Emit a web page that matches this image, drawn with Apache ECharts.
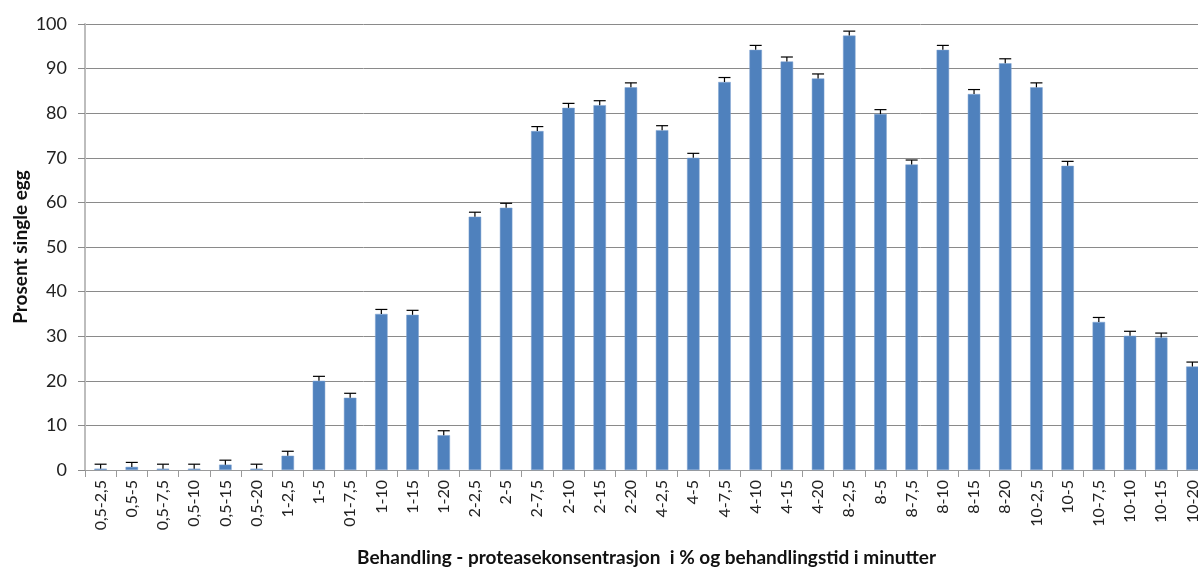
<!DOCTYPE html>
<html><head><meta charset="utf-8">
<script src="https://cdn.jsdelivr.net/npm/echarts@6/dist/echarts.min.js"></script>
<style>html,body{margin:0;padding:0;background:#fff}#c{width:1198px;height:569px}</style>
</head><body><div id="c"></div>
<script>
const categories = ['0,5-2,5','0,5-5','0,5-7,5','0,5-10','0,5-15','0,5-20','1-2,5','1-5','01-7,5','1-10','1-15','1-20','2-2,5','2-5','2-7,5','2-10','2-15','2-20','4-2,5','4-5','4-7,5','4-10','4-15','4-20','8-2,5','8-5','8-7,5','8-10','8-15','8-20','10-2,5','10-5','10-7,5','10-10','10-15','10-20'];
const values = [0.3,0.7,0.3,0.3,1.2,0.3,3.2,20,16.2,35,34.8,7.8,56.8,58.8,76,81.2,81.8,85.8,76.2,70,87,94.2,91.6,87.8,97.4,79.8,68.5,94.2,84.3,91.2,85.8,68.2,33.2,30.1,29.7,23.2];
const errors = [1.0,1.0,1.0,1.0,1.0,1.0,1.0,1.0,1.0,1.0,1.0,1.0,1.0,1.0,1.0,1.0,1.0,1.0,1.0,1.0,1.0,1.0,1.0,1.0,1.0,1.0,1.0,1.0,1.0,1.0,1.0,1.0,1.0,1.0,1.0,1.0];
const yTicks = [0,10,20,30,40,50,60,70,80,90,100];
const xTitle = 'Behandling - proteasekonsentrasjon  i % og behandlingstid i minutter';
const yTitle = 'Prosent single egg';

const FONT = 'Lato';
const chart = echarts.init(document.getElementById('c'));
chart.setOption({
  animation: false,
  textStyle: {fontFamily: FONT},
  grid: {left: 85, top: 24, right: -10, bottom: 99, containLabel: false, outerBoundsMode: 'none'},
  xAxis: {
    type: 'category', data: categories,
    axisLine: {lineStyle: {color: '#9a9a9a', width: 1}},
    axisTick: {show: true, length: 7, lineStyle: {color: '#9a9a9a'}},
    axisLabel: {rotate: 90, fontSize: 16, color: '#222', margin: 10, fontFamily: FONT},
    name: xTitle, nameLocation: 'middle', nameGap: 78,
    nameTextStyle: {fontSize: 19, fontWeight: 'bold', color: '#111', fontFamily: FONT}
  },
  yAxis: {
    type: 'value', min: 0, max: 100, interval: 10,
    axisLine: {show: true, lineStyle: {color: '#bdbdbd', width: 2}},
    axisTick: {show: true, length: 7, lineStyle: {color: '#8a8a8a'}},
    splitLine: {lineStyle: {color: '#8a8a8a', width: 1}},
    axisLabel: {fontSize: 18, color: '#222', margin: 18, fontFamily: FONT,
      formatter: v => yTicks.includes(v) ? String(v) : ''},
    name: yTitle, nameLocation: 'middle', nameRotate: 90, nameGap: 55, nameMoveOverlap: false,
    nameTextStyle: {fontSize: 19, fontWeight: 'bold', color: '#111', fontFamily: FONT}
  },
  series: [
    {
      type: 'bar', data: values, barWidth: '40%',
      itemStyle: {color: '#4F81BD', borderColor: '#7FA3D1', borderWidth: 0.5}
    },
    {
      type: 'custom', z: 10,
      data: values.map((v, i) => [i, v, errors[i]]),
      renderItem: function (params, api) {
        const i = api.value(0), v = api.value(1), e = api.value(2);
        const p0 = api.coord([i, v]);
        const p1 = api.coord([i, v + e]);
        const hw = 6;
        const st = {stroke: '#000', lineWidth: 1.2};
        return {type: 'group', children: [
          {type: 'line', shape: {x1: p0[0], y1: p0[1], x2: p1[0], y2: p1[1]}, style: st},
          {type: 'line', shape: {x1: p1[0] - hw, y1: p1[1], x2: p1[0] + hw, y2: p1[1]}, style: st}
        ]};
      }
    }
  ]
});
</script></body></html>
